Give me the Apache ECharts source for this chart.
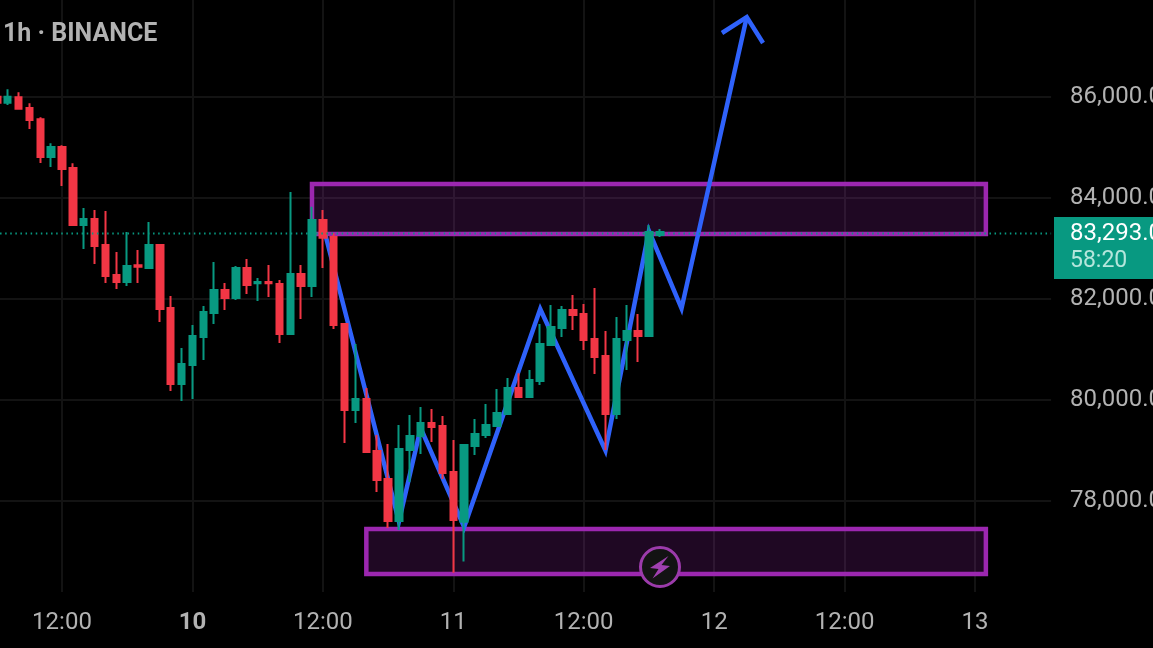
<!DOCTYPE html>
<html><head><meta charset="utf-8">
<style>html,body{margin:0;padding:0;background:#000}#c{width:1153px;height:648px}</style>
<script src="https://cdn.jsdelivr.net/npm/echarts@6/dist/echarts.min.js"></script>
</head><body><div id="c"></div>
<script>
const categoryCount = 99;
const firstCandleIndex = 1;
const xTickLabels = {7:'12:00',19:'10',31:'12:00',43:'11',55:'12:00',67:'12',79:'12:00',91:'13'};
const yTicks = [78000,80000,82000,84000,86000];
const lastPrice = 83293;
// open, close, low, high
const candles = [
[86001,85882,85882,86001],[85882,86001,85836,86146],[85987,85763,85763,86086],[85776,85539,85361,85869],
[85552,84807,84689,85592],[84807,85005,84609,85078],[85005,84570,84234,85038],[84590,83462,83462,84682],
[83462,83581,82988,83798],[83581,83047,82691,83759],[83067,82453,82315,83739],[82473,82335,82196,82928],
[82335,82651,82256,83324],[82664,82638,82315,82968],[82612,83067,82592,83522],[83067,81801,81544,83067],
[81821,80317,80179,82058],[80317,80713,79981,81029],[80693,81267,80021,81484],[81247,81741,80792,81860],
[81722,82177,81504,82730],[82177,82018,81781,82315],[82018,82612,81979,82651],[82612,82276,82098,82790],
[82309,82335,81959,82414],[82335,82309,82038,82671],[82295,81306,81128,82374],[81306,82493,81306,84115],
[82493,82256,81603,82671],[82256,83561,82038,83825],[83561,83212,82612,83759],[83225,81484,81405,83297],
[81504,79803,79151,81504],[79803,80021,79546,81109],[80021,78973,78973,80239],[78993,78419,78182,79309],
[78439,77608,77470,79131],[77608,79032,77430,79507],[79012,79289,78379,79705],[79289,79546,78933,79863],
[79546,79467,79170,79823],[79487,78557,78439,79685],[78577,77628,76586,79210],[77595,79111,76804,79111],
[79091,79329,78913,79625],[79309,79507,79250,79922],[79487,79744,79487,80219],[79724,80238,79724,80436],
[80238,80060,80060,80528],[80060,80397,80060,80594],[80377,81109,80298,81504],[81089,81445,81089,81880],
[81425,81781,81247,81860],[81781,81682,81386,82078],[81702,81188,80990,81900],[81207,80851,80515,82216],
[80871,79724,79012,81366],[79724,81207,79625,81643],[81188,81366,80594,81880],[81366,81267,80753,81702],
[81267,83324,81267,83462],[83265,83324,83225,83383]
];
const pathPoints = [[31,83462],[38,77598],[40,79447],[44,77489],[51,81801],[57,79002],[61,83344],[64,81811],[70,87576]];
const arrowPoints = [[67.72,87260],[70,87576],[71.5,87062]];
// left, right, top price, bottom price
const zones = [[30,92,84273,83284],[35,92,77449,76559]];

const RED='#f23645', GREEN='#089981', GRID='#131313', TXT='#b2b2b2', PURPLE='#9c27b0', BLUE='#2f62fb';
const FONT='Roboto';
const band = 10.869, leftPx = -14.08;
const candleData = [];
for (let i=0;i<categoryCount;i++){
  const k=i-firstCandleIndex;
  candleData.push(k>=0&&k<candles.length?candles[k]:'-');
}
const cats=[];for(let i=0;i<categoryCount;i++)cats.push(String(i));

const chart=echarts.init(document.getElementById('c'),null,{renderer:'canvas'});
chart.setOption({
  animation:false,
  backgroundColor:'#000',
  title:{text:'1h · BINANCE',left:3,top:21,padding:0,textStyle:{color:TXT,fontFamily:FONT,fontSize:25,fontWeight:'bold',lineHeight:28}},
  grid:{left:leftPx,top:0,width:band*(categoryCount-1),height:592,outerBoundsMode:'none'},
  xAxis:[
   {type:'category',data:cats,boundaryGap:false,axisLine:{show:false},axisTick:{show:false},
    axisLabel:{interval:(i)=>xTickLabels[i]!==undefined,margin:19,color:TXT,fontFamily:FONT,fontSize:24,
      formatter:(v)=>{const t=xTickLabels[v]||'';return t==='10'?'{b|10}':t;},
      rich:{b:{fontWeight:'bold',fontSize:24,fontFamily:FONT,color:TXT}}},
    splitLine:{show:true,interval:(i)=>xTickLabels[i]!==undefined,lineStyle:{color:GRID,width:2}}},
   {type:'value',min:0,max:categoryCount-1,show:false,splitLine:{show:false}}
  ],
  yAxis:{type:'value',position:'right',min:76203,max:87913,axisLine:{show:false},
    axisTick:{show:false,customValues:yTicks},
    axisLabel:{customValues:yTicks,margin:19,color:TXT,fontFamily:FONT,fontSize:24,padding:[2,0,0,0],
      formatter:(v)=>v.toLocaleString('en-US')+'.0'},
    splitLine:{show:true,lineStyle:{color:GRID,width:2}}},
  series:[
   {type:'custom',xAxisIndex:1,z:1,data:zones,encode:{x:[0,1],y:[2,3]},clip:false,silent:true,
    renderItem:(p,api)=>{
      const a=api.coord([api.value(0),api.value(2)]),b=api.coord([api.value(1),api.value(3)]);
      return {type:'rect',shape:{x:a[0],y:a[1],width:b[0]-a[0],height:b[1]-a[1]},
        style:{fill:'rgba(156,39,176,0.2)',stroke:PURPLE,lineWidth:4.5}};
    }},
   {type:'line',xAxisIndex:1,z:2,data:pathPoints,symbol:'none',lineStyle:{color:BLUE,width:4.5,join:'miter'}},
   {type:'line',xAxisIndex:1,z:2,data:arrowPoints,symbol:'none',lineStyle:{color:BLUE,width:4.5,join:'miter'}},
   {type:'candlestick',z:3,data:candleData,barWidth:7,
    itemStyle:{color:GREEN,color0:RED,borderColor:GREEN,borderColor0:RED,borderWidth:2}},
   {type:'line',xAxisIndex:1,z:4,data:[[1.3,lastPrice],[98,lastPrice]],symbol:'none',
    lineStyle:{color:GREEN,width:2,type:[1.5,3.6]}}
  ],
  graphic:[
   {type:'rect',z:100,shape:{x:1054,y:217,width:99,height:62},style:{fill:GREEN}},
   {type:'text',z:101,x:1070,y:234,style:{text:'83,293.0',fill:'#fff',font:'24px Roboto',verticalAlign:'middle'}},
   {type:'text',z:101,x:1070,y:261,style:{text:'58:20',fill:'#b5e6dc',font:'23px Roboto',verticalAlign:'middle'}},
   {type:'circle',z:100,shape:{cx:660,cy:567,r:19.5},style:{fill:'#131313',stroke:'#9c3bab',lineWidth:3}},
   {type:'polygon',z:101,shape:{points:[[668.5,556],[650,568],[658.5,569],[652.5,578.5],[670,566],[661.5,565]]},style:{fill:'#a040b0'}}
  ]
});
</script></body></html>
